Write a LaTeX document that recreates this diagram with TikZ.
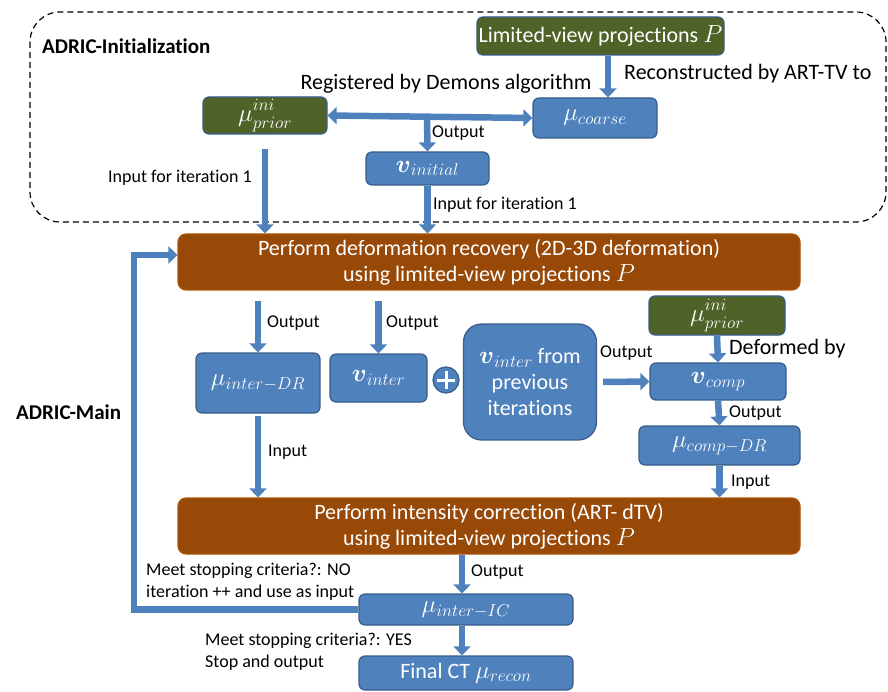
\documentclass[tikz,border=0pt]{standalone}
\usepackage{amsmath}
\usepackage{fontspec}
\setmainfont{Carlito}[Ligatures=NoCommon]
\DeclareMathSizes{22}{23}{17}{13}
\usetikzlibrary{arrows.meta}
\definecolor{bbl}{RGB}{79,129,189}
\definecolor{bbd}{RGB}{56,93,138}
\definecolor{grn}{RGB}{79,98,40}
\definecolor{brn}{RGB}{152,72,7}
\newcommand{\muprior}{$\mu^{\raisebox{2pt}{$\scriptstyle ini$}}_{prior}$}
\begin{document}
\begin{tikzpicture}[x=1pt,y=-1pt,
  box/.style={draw=bbd, line width=1.2pt, fill=bbl, rounded corners=6pt, text=white, inner sep=0pt, font=\fontsize{22}{26}\selectfont},
  gbox/.style={box, fill=grn},
  brbox/.style={box, fill=brn, draw=brn!80!orange, rounded corners=8pt, align=center},
  arr/.style={draw=bbl, line width=6.5pt, -{Triangle[width=17pt,length=9pt]}},
  darr/.style={draw=bbl, line width=6.5pt, {Triangle[width=17pt,length=9pt]}-{Triangle[width=17pt,length=9pt]}},
  lbl/.style={anchor=west, inner sep=0pt, font=\fontsize{18}{22}\selectfont, align=left},
  big/.style={anchor=west, inner sep=0pt, font=\fontsize{22}{26}\selectfont},
  ttl/.style={anchor=west, inner sep=0pt, font=\bfseries\fontsize{21}{26}\selectfont}]
\useasboundingbox (0,0) rectangle (888,692);
% initialization frame
\draw[line width=1.2pt, dash pattern=on 6pt off 4pt, rounded corners=30pt] (30,12) rectangle (886,222);
\node[ttl] (tinit) at (42,46) {ADRIC-Initialization};
\node[ttl] (tmain) at (16,412) {ADRIC-Main};
% boxes
\node[gbox, minimum width=247pt, minimum height=38pt] (lim) at (600.5,36) {Limited-view projections $P$};
\node[box, minimum width=124pt, minimum height=40pt] (coarse) at (595,118) {$\mu_{coarse}$};
\node[gbox, minimum width=124pt, minimum height=37pt] (prior1) at (265,115.5) {\muprior};
\node[box, minimum width=123pt, minimum height=33pt] (vinit) at (427.5,168.5) {$\boldsymbol{v}_{initial}$};
\node[brbox, minimum width=622pt, minimum height=56pt] (brown1) at (489,262) {Perform deformation recovery (2D-3D deformation)\\using limited-view projections $P$};
\node[box, minimum width=124pt, minimum height=60pt] (interDR) at (258,383) {$\mu_{inter-DR}$};
\node[box, minimum width=97pt, minimum height=48pt] (vinter) at (378.5,378) {$\boldsymbol{v}_{inter}$};
\node[circle, fill=bbl, draw=bbd, line width=1.2pt, minimum size=26pt, inner sep=0pt] (plus) at (446,380) {};
\draw[white, line width=3pt] ([yshift=9pt]plus.center) -- ([yshift=-9pt]plus.center)
  ([xshift=-9pt]plus.center) -- ([xshift=9pt]plus.center);
\node[box, rounded corners=18pt, align=center, minimum width=133pt, minimum height=116pt] (prev) at (530,382) {$\boldsymbol{v}_{inter}$ from\\previous\\iterations};
\node[gbox, minimum width=136pt, minimum height=39pt] (prior2) at (717,315.5) {\muprior};
\node[box, minimum width=136pt, minimum height=37pt] (vcomp) at (718,381.5) {$\boldsymbol{v}_{comp}$};
\node[box, minimum width=161pt, minimum height=39pt] (compDR) at (719.5,445.5) {$\mu_{comp-DR}$};
\node[brbox, minimum width=622pt, minimum height=56pt] (brown2) at (489,526) {Perform intensity correction (ART- dTV)\\using limited-view projections $P$};
\node[box, minimum width=214pt, minimum height=31pt] (ic) at (466,609.5) {$\mu_{inter-IC}$};
\node[box, minimum width=214pt, minimum height=34pt] (final) at (466,673) {Final CT $\mu_{recon}$};
% connectors
\draw[arr] ([xshift=13pt]coarse.north |- lim.south) -- ([xshift=13pt]coarse.north);
\draw[darr] (prior1.east) -- (coarse.west);
\coordinate (reg) at (427,116);
\draw[arr] (reg) -- (vinit.north);
\draw[arr] ([yshift=-14pt]prior1.south) -- (prior1.south |- brown1.north);
\draw[arr] (vinit.south) -- (vinit.south |- brown1.north);
\draw[arr] ([yshift=-10pt]interDR.north |- brown1.south) -- (interDR.north);
\draw[arr] ([yshift=-10pt]vinter.north |- brown1.south) -- (vinter.north);
\draw[arr] ([xshift=6pt]prev.east) -- (vcomp.west);
\draw[arr] (prior2.south) -- (vcomp.north);
\draw[arr] (vcomp.south) -- (compDR.north);
\draw[arr] (compDR.south) -- (compDR.south |- brown2.north);
\draw[arr] ([yshift=-2pt]interDR.south) -- (interDR.south |- brown2.north);
\draw[arr] ([xshift=-4pt]ic.north |- brown2.south) -- ([xshift=-4pt]ic.north);
\draw[arr] ([xshift=-4pt]ic.south) -- ([xshift=-4pt]final.north);
\coordinate (fb) at (134,607);
\draw[arr] (ic.west) -- (ic.west -| fb) |- ([yshift=7pt]brown1.west);
% labels
\node[big, anchor=center] (treg) at (446,84) {Registered by Demons algorithm};
\node[big] (trec) at (624,74) {Reconstructed by ART-TV to};
\node[lbl] (tout0) at (432,133) {Output};
\node[lbl] (tin1) at (108,178) {Input for iteration 1};
\node[lbl] (tin2) at (433,205) {Input for iteration 1};
\node[lbl] (tout1) at (267,323) {Output};
\node[lbl] (tout2) at (386,323) {Output};
\node[lbl] (tout3) at (600,353) {Output};
\node[big] (tdef) at (729,349) {Deformed by};
\node[lbl] (tout4) at (729,413) {Output};
\node[lbl] (tin3) at (268,452) {Input};
\node[lbl] (tin4) at (731,482) {Input};
\node[lbl] (tout5) at (471,572) {Output};
\node[lbl] (tno) at (146,582) {Meet stopping criteria?: NO\\iteration ++ and use as input};
\node[lbl] (tyes) at (205,652) {Meet stopping criteria?: YES\\Stop and output};
\end{tikzpicture}
\end{document}
